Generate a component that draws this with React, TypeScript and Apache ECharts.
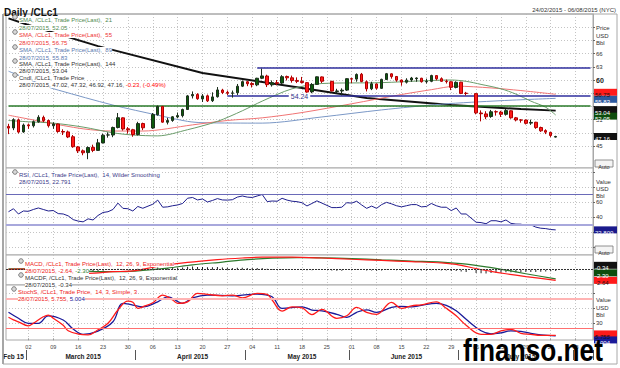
import React, { useEffect, useRef } from "react";
import * as echarts from "echarts";

const FONT = "'Liberation Sans', Arial, sans-serif";

// ---- categories: every weekday shown on the time axis (2015) ----
const axisDays: string[] = [
  "02-24","02-25","02-26","02-27",
  "03-02","03-03","03-04","03-05","03-06",
  "03-09","03-10","03-11","03-12","03-13",
  "03-16","03-17","03-18","03-19","03-20",
  "03-23","03-24","03-25","03-26","03-27",
  "03-30","03-31","04-01","04-02","04-03",
  "04-06","04-07","04-08","04-09","04-10",
  "04-13","04-14","04-15","04-16","04-17",
  "04-20","04-21","04-22","04-23","04-24",
  "04-27","04-28","04-29","04-30","05-01",
  "05-04","05-05","05-06","05-07","05-08",
  "05-11","05-12","05-13","05-14","05-15",
  "05-18","05-19","05-20","05-21","05-22",
  "05-25","05-26","05-27","05-28","05-29",
  "06-01","06-02","06-03","06-04","06-05",
  "06-08","06-09","06-10","06-11","06-12",
  "06-15","06-16","06-17","06-18","06-19",
  "06-22","06-23","06-24","06-25","06-26",
  "06-29","06-30","07-01","07-02","07-03",
  "07-06","07-07","07-08","07-09","07-10",
  "07-13","07-14","07-15","07-16","07-17",
  "07-20","07-21","07-22","07-23","07-24",
  "07-27","07-28","07-29","07-30","07-31",
  "08-03","08-04","08-05","08-06",
];
const holidays = ["04-03", "05-25", "07-03"];
const lastTradeDay = "07-28";
const monthNames = ["Feb 15", "March 2015", "April 2015", "May 2015", "June 2015", "July 2015"];

// ---- candles (trading days in order) ----
const opens = [
  49.45,49.10,50.95,48.20,
  49.80,49.60,50.50,51.50,50.80, 49.60,50.00,48.30,48.20,47.10, 44.80,43.90,43.50,44.70,44.00, 45.70,47.50,47.50,49.20,51.40, 48.90,48.70,
  47.60,50.10, 49.10,52.10,54.00,50.40,50.80, 51.60,51.90,53.30,56.40,56.70, 55.70,56.40,55.30,56.20,57.70, 57.20,57.00,57.10,58.60,
  59.60, 59.20,58.90,60.40,60.90,58.90, 59.40,59.30,60.80,60.50,59.90, 59.70,59.40,57.30,59.00,60.70, 59.70,57.40,57.50,57.70,
  60.30,60.20,61.30,59.60,58.00, 59.10,58.10,60.10,61.40,60.80, 60.00,59.50,60.00,60.30,60.40, 59.60,59.70,61.00,60.30,59.70, 59.60,58.30,
  59.50,57.00, 56.90,52.50,52.30,51.70,52.80, 52.70,52.20,53.00,51.40,50.90, 50.90,50.20,50.40,49.20,48.50, 48.10,47.02,
];
const highs = [
  50.05,51.30,51.25,50.10,
  50.10,50.80,52.00,51.90,51.00, 50.40,50.10,48.80,48.50,47.50, 45.00,44.20,44.90,45.30,46.60, 47.80,48.10,49.40,52.50,51.50, 49.30,48.90,
  50.50,50.30, 52.50,54.20,54.10,51.40,51.80, 52.60,53.50,56.60,57.40,57.00, 56.80,56.70,57.20,58.40,58.00, 57.60,57.60,59.10,59.90,
  59.80, 59.50,60.50,62.58,61.20,59.90, 60.00,61.10,61.00,61.00,60.60, 60.70,59.50,59.30,60.80,60.80, 59.80,58.00,58.10,60.40,
  60.50,61.50,61.60,59.90,59.60, 59.20,60.30,61.60,61.50,60.90, 60.10,60.40,60.70,60.60,60.50, 60.30,61.20,61.10,60.60,60.10, 59.70,59.70,
  59.60,57.30, 57.00,53.10,52.90,53.20,53.10, 53.00,53.40,53.10,51.60,51.10, 51.00,51.00,50.50,49.40,48.80, 48.20,47.32,
];
const lows = [
  47.70,48.60,47.85,48.00,
  48.90,49.20,50.30,50.40,49.20, 48.90,48.00,47.50,46.80,44.60, 43.40,42.90,42.00,43.60,43.90, 45.60,46.90,47.00,49.00,48.50, 47.80,47.10,
  47.40,48.60, 48.90,51.90,50.30,49.90,50.50, 51.30,51.50,53.20,55.80,55.50, 55.00,55.00,55.00,56.00,56.80, 56.60,56.00,56.60,58.40,
  58.60, 58.30,58.60,60.20,58.40,58.50, 58.80,59.10,59.90,59.40,59.30, 59.20,57.10,57.00,58.90,59.30, 57.40,57.00,56.50,57.50,
  59.30,59.60,59.50,57.40,57.70, 57.80,58.00,60.00,60.30,59.60, 58.70,59.20,59.60,59.60,59.40, 59.20,59.50,59.90,59.60,59.20, 57.70,58.10,
  56.80,56.50, 52.20,50.60,51.10,51.40,51.90, 51.60,51.90,51.20,50.60,50.30, 49.90,49.80,48.90,48.20,47.70, 47.00,46.92,
];
const closes = [
  49.07,50.99,48.17,49.76,
  49.59,50.52,51.53,50.76,49.61, 50.00,48.29,48.17,47.05,44.84, 43.88,43.46,44.66,44.00,45.72, 47.45,47.51,49.21,51.43,48.87, 48.68,47.60,
  50.09,49.14, 52.14,53.98,50.42,50.79,51.64, 51.91,53.29,56.39,56.71,55.74, 56.38,55.26,56.16,57.74,57.15, 56.99,57.06,58.58,59.63,
  59.15, 58.93,60.40,60.93,58.94,59.39, 59.25,60.75,60.50,59.88,59.69, 59.43,57.26,58.98,60.72,59.72, 57.51,57.51,57.68,60.30,
  60.20,61.26,59.64,58.00,59.13, 58.14,60.14,61.43,60.77,59.96, 59.52,59.97,60.45,60.45,59.61, 59.68,61.01,60.27,59.70,59.63, 58.33,59.47,
  56.96,56.93, 52.53,52.33,51.65,52.78,52.74, 52.20,53.04,51.41,50.91,50.89, 50.15,50.36,49.19,48.45,48.14, 47.39,47.16,
];

// ---- moving averages: [day, value] ----
const sma21: [string, number][] = [
  ["02-24",50.8],["03-02",50.5],["03-09",50.2],["03-17",49.3],["03-25",48.0],["03-31",47.5],["04-07",47.3],
  ["04-15",48.7],["04-23",50.6],["04-30",53.0],["05-06",55.2],["05-14",58.0],["05-22",59.2],["06-09",59.4],
  ["06-19",59.8],["06-29",60.0],["07-02",59.7],["07-07",59.0],["07-13",58.0],["07-16",56.8],["07-21",55.2],
  ["07-24",53.8],["07-28",52.05],
];
const sma55: [string, number][] = [
  ["02-24",52.0],["03-05",50.5],["03-17",48.9],["03-25",48.4],["04-02",48.4],["04-16",49.8],["04-27",50.8],
  ["05-06",51.4],["05-18",52.6],["06-01",54.6],["06-15",56.7],["06-23",57.8],["06-30",58.6],["07-09",58.2],
  ["07-17",57.6],["07-28",56.75],
];
const sma89: [string, number][] = [
  ["02-24",62.0],["03-06",58.4],["03-10",57.7],["03-25",54.3],["04-07",52.0],["04-15",50.6],["04-20",50.3],
  ["05-06",50.2],["05-22",51.6],["06-09",53.2],["06-25",54.5],["07-13",55.3],["07-28",55.83],
];
const sma144: [string, number][] = [
  ["02-24",74.0],["03-02",72.5],["03-20",67.7],["04-20",61.6],["05-18",58.2],["06-04",55.9],["06-29",54.3],
  ["07-17",53.4],["07-28",53.04],
];
const resistance = { from: "05-05", value: 62.8 };
const support = { from: "04-27", value: 56.5 };
const pivot = 54.24;

// ---- RSI (one value per trading day) ----
const rsi = [
  47,51,44,48,
  47.5,50,52,50,48, 48.6,44.5,44,41.5,36.5, 34.5,33.5,37.5,36,42, 46,47,50,58.5,51.5, 51,48,
  54,51.6, 57,62.5,53,53.5,55, 56,58,65,66,62.7, 64,60,62,64.5,62.7, 62.5,63,66.5,68,
  66.5, 66,68,70,60.5,61.3, 61,64.9,62.5,61,60.4, 59,54.7,58,61.5,58.5, 52.5,52.5,53,59,
  58.5,61,56,51.5,54.5, 51.5,56.5,59.5,57.5,55, 53.5,55,56.5,56.5,53.5, 54,58,55,53,53, 48.5,52,
  44,44, 33,32.5,31,35,35, 33.5,36,31.5,30.5,30.4, 28.5,29.5,26.5,25,24.5, 23.3,22.8,
];
const rsiLevels = [70, 30];

// ---- MACD ----
const macd: [string, number][] = [
  ["02-24",0.1],["03-02",0.15],["03-06",0.2],["03-13",-0.4],["03-18",-0.9],["03-25",-0.5],["03-31",-0.3],
  ["04-07",0.8],["04-15",1.8],["04-23",2.5],["04-30",2.9],["05-06",3.1],["05-14",3.1],["05-22",2.9],
  ["06-01",2.6],["06-09",2.3],["06-17",2.0],["06-25",1.7],["06-30",1.3],["07-06",0.3],["07-09",-0.4],
  ["07-14",-1.0],["07-20",-1.7],["07-28",-2.64],
];
const macdSignal: [string, number][] = [
  ["02-24",0.2],["03-06",0.15],["03-13",0.0],["03-20",-0.5],["03-27",-0.5],["04-02",-0.2],["04-09",0.4],
  ["04-16",1.2],["04-24",1.9],["05-01",2.5],["05-08",2.85],["05-15",3.0],["05-22",2.95],["06-01",2.75],
  ["06-09",2.45],["06-17",2.15],["06-25",1.9],["07-01",1.5],["07-08",0.7],["07-14",-0.1],["07-20",-1.0],
  ["07-28",-2.30],
];
const macdHist = [
  -0.1,-0.05,-0.1,-0.05,
  0,0.02,0.05,0.05,0.03, -0.05,-0.15,-0.2,-0.3,-0.4, -0.45,-0.5,-0.45,-0.4,-0.3, -0.2,-0.1,0.05,0.25,0.2, 0.15,0.1,
  0.25,0.25, 0.4,0.55,0.45,0.45,0.5, 0.5,0.55,0.75,0.8,0.7, 0.7,0.6,0.6,0.65,0.55, 0.5,0.45,0.5,0.5,
  0.45, 0.4,0.4,0.4,0.25,0.2, 0.15,0.15,0.1,0.05,0.0, -0.05,-0.15,-0.15,-0.05,-0.1, -0.2,-0.25,-0.25,-0.1,
  -0.1,-0.05,-0.1,-0.2,-0.2, -0.25,-0.2,-0.1,-0.1,-0.15, -0.2,-0.2,-0.15,-0.15,-0.2, -0.2,-0.15,-0.15,-0.2,-0.2, -0.3,-0.3,
  -0.45,-0.55, -0.8,-0.9,-0.95,-0.85,-0.8, -0.75,-0.65,-0.65,-0.65,-0.6, -0.6,-0.55,-0.55,-0.5,-0.45, -0.4,-0.34,
];

// ---- Slow stochastic ----
const stochK: [string, number][] = [
  ["02-24",42],["02-25",37],["02-26",33],["03-02",25],["03-03",30],["03-05",43],["03-06",46.5],["03-09",40],
  ["03-11",26],["03-12",15],["03-16",8.5],["03-18",7],["03-20",17],["03-24",30],["03-26",56.5],["03-30",74.5],
  ["03-31",72],["04-01",60],["04-02",63],["04-06",71],["04-08",86.5],["04-10",76.5],["04-13",70],["04-15",73],
  ["04-17",90],["04-21",88],["04-24",85],["04-28",86.5],["04-30",81],["05-05",90],["05-07",88],["05-08",76.5],
  ["05-12",54.5],["05-14",63],["05-18",61],["05-20",47.5],["05-22",58],["05-27",40],["05-29",45],["06-02",62],
  ["06-04",52],["06-08",48],["06-11",72],["06-15",60],["06-17",65],["06-19",67],["06-24",73],["06-26",60],
  ["06-30",45],["07-02",26],["07-07",8],["07-09",8],["07-13",15],["07-15",18],["07-17",10],["07-21",8],
  ["07-23",6],["07-28",5.755],
];
const stochD: [string, number][] = [
  ["02-24",52],["02-26",40],["03-02",30],["03-04",30],["03-06",45],["03-11",36.5],["03-13",18.5],["03-17",8],
  ["03-20",14.5],["03-25",33],["03-27",70],["03-31",66.5],["04-02",63],["04-07",73],["04-09",83],["04-14",70],
  ["04-16",81],["04-21",86.5],["04-28",85],["05-05",88.5],["05-08",83],["05-12",60],["05-18",63],["05-20",56.5],
  ["05-22",55],["05-27",48],["05-29",42],["06-02",52],["06-04",57],["06-08",52],["06-11",62],["06-15",64],
  ["06-17",63],["06-19",66],["06-24",70],["06-26",66],["06-30",55],["07-02",38],["07-07",15],["07-09",9],
  ["07-13",11],["07-15",15],["07-17",14],["07-21",10],["07-23",7],["07-28",5.004],
];
const stochLevels = [80, 20];

// tick sets
const priceGrid = [45, 48, 51, 54, 57, 60, 63, 66, 69, 72];
const priceLabels = [45, 51, 60, 63, 66];
const rsiGrid = [0, 20, 40, 60, 80, 100];
const rsiLabels = [40, 60];
const stochGrid = [30, 60, 90];
const stochLabels = [30];

const tradeDays = axisDays.filter((d) => !holidays.includes(d) && d <= lastTradeDay);

export default function App() {
  const ref = useRef<HTMLDivElement>(null);
  useEffect(() => {
    if (!ref.current) return;
    const chart = echarts.init(ref.current, undefined, { renderer: "svg" });

    const byDay = (vals: number[]) => {
      const m: Record<string, number> = {};
      tradeDays.forEach((d, i) => (m[d] = vals[i]));
      return axisDays.map((d) => (d in m ? m[d] : "-"));
    };
    const candleData = axisDays.map((d) => {
      const i = tradeDays.indexOf(d);
      return i < 0 ? "-" : [opens[i], closes[i], lows[i], highs[i]];
    });
    const isMonday = axisDays.map((d) => new Date(2015, +d.slice(0, 2) - 1, +d.slice(3)).getDay() === 1);
    const monthStart = axisDays.map((d, i) => i > 0 && d.slice(0, 2) !== axisDays[i - 1].slice(0, 2));
    const starts = [0, ...axisDays.map((_, i) => i).filter((i) => monthStart[i]), axisDays.length];
    const monthLabelAt: Record<number, string> = {};
    monthNames.forEach((n, k) => {
      const idx = k === 0 ? 1 : Math.round((starts[k] + starts[k + 1]) / 2);
      monthLabelAt[idx] = n;
    });

    const dotted = { color: "#c4c4c4", type: [1, 2] as number[], width: 1 };
    const grids = [
      { top: 14, height: 154 },
      { top: 168, height: 87 },
      { top: 255, height: 30 },
      { top: 285, height: 55 },
    ].map((g) => ({ ...g, left: 6, right: 27, show: true, borderColor: "#a8a8a8", borderWidth: 1, backgroundColor: "#fff" }));

    const mkX = (gi: number) => ({
      type: "category" as const,
      gridIndex: gi,
      data: axisDays,
      boundaryGap: true,
      axisLine: { show: false },
      axisTick: { show: false },
      axisLabel: { show: false },
      splitLine: { show: true, interval: (i: number) => isMonday[i], alignWithLabel: true, lineStyle: dotted },
    });
    const xAxes: any[] = [mkX(0), mkX(1), mkX(2), mkX(3)];
    xAxes[3] = {
      ...xAxes[3],
      axisTick: { show: true, alignWithLabel: true, interval: (i: number) => isMonday[i], length: 2, lineStyle: { color: "#999" } },
      axisLabel: {
        show: true,
        interval: (i: number) => isMonday[i],
        formatter: (v: string) => v.slice(3),
        fontSize: 5.5,
        fontFamily: FONT,
        color: "#444",
        margin: 4,
      },
    };
    xAxes.push({
      type: "category",
      gridIndex: 3,
      data: axisDays,
      boundaryGap: true,
      position: "bottom",
      offset: 10,
      axisLine: { show: false },
      axisTick: { show: true, interval: (i: number) => monthStart[i], length: 10, lineStyle: { color: "#555", width: 1 } },
      axisLabel: {
        show: true,
        interval: (i: number) => i in monthLabelAt,
        formatter: (_v: string, i: number) => monthLabelAt[i] || "",
        fontSize: 6.5,
        fontWeight: "bold",
        fontFamily: FONT,
        color: "#222",
        margin: 3,
      },
      splitLine: { show: false },
    });

    const mkY = (gi: number, min: number, max: number, grid: number[], labels: number[] | null, fmt?: any) => ({
      type: "value" as const,
      gridIndex: gi,
      position: "right" as const,
      min,
      max,
      axisLine: { show: true, lineStyle: { color: "#a8a8a8" } },
      axisTick: { show: grid.length > 0, length: 2, customValues: grid, lineStyle: { color: "#666" } },
      axisLabel: labels
        ? { show: true, customValues: labels, fontSize: 6, fontFamily: FONT, color: "#333", margin: 3, formatter: fmt, rich: { b: { fontSize: 7, fontWeight: "bold", color: "#222", fontFamily: FONT } } }
        : { show: false },
      splitLine: { show: grid.length > 0, lineStyle: dotted },
    });
    const yAxes: any[] = [
      mkY(0, 40, 75, priceGrid, priceLabels, (v: number) => (v === 60 ? "{b|60}" : String(v))),
      mkY(1, -10.7, 105.3, rsiGrid, rsiLabels),
      mkY(2, -3.8, 3.65, [], null),
      mkY(3, -3.4, 106.6, stochGrid, stochLabels),
    ];

    const hLine = (color: string, width: number) => ({ color, width, type: "solid" as const });

    const series: any[] = [
      {
        type: "candlestick",
        xAxisIndex: 0,
        yAxisIndex: 0,
        data: candleData,
        barWidth: 3,
        itemStyle: { color: "#0c5a0c", color0: "#ff1a1a", borderColor: "#1c2e1c", borderColor0: "#b00000", borderWidth: 1 },
        z: 5,
        markLine: {
          silent: true,
          symbol: "none",
          animation: false,
          data: [
            [
              { coord: [resistance.from, resistance.value], lineStyle: hLine("#2f2f9e", 1.5) },
              { coord: [axisDays[axisDays.length - 1], resistance.value] },
            ],
            [
              { coord: [support.from, support.value], lineStyle: hLine("#2f2f9e", 1.5) },
              { coord: [axisDays[axisDays.length - 1], support.value] },
            ],
            [
              {
                coord: [axisDays[0], pivot],
                lineStyle: hLine("#2a7a2a", 1.5),
                label: { show: true, position: "middle", formatter: String(pivot), color: "#33338a", fontSize: 7, fontFamily: FONT, backgroundColor: "#fff", padding: [0, 2] },
              },
              { coord: [axisDays[axisDays.length - 1], pivot] },
            ],
          ],
          label: { show: false },
        },
      },
      { type: "line", xAxisIndex: 0, yAxisIndex: 0, data: sma144, symbol: "none", lineStyle: { color: "#111", width: 2 }, z: 3 },
      { type: "line", xAxisIndex: 0, yAxisIndex: 0, data: sma89, symbol: "none", smooth: 0.3, lineStyle: { color: "#7b98c6", width: 1 }, z: 3 },
      { type: "line", xAxisIndex: 0, yAxisIndex: 0, data: sma55, symbol: "none", smooth: 0.3, lineStyle: { color: "#f07474", width: 1 }, z: 3 },
      { type: "line", xAxisIndex: 0, yAxisIndex: 0, data: sma21, symbol: "none", smooth: 0.3, lineStyle: { color: "#6a9c6a", width: 1 }, z: 3 },
      {
        type: "line",
        xAxisIndex: 1,
        yAxisIndex: 1,
        data: byDay(rsi),
        connectNulls: true,
        symbol: "none",
        lineStyle: { color: "#1e1e8c", width: 1 },
        markLine: {
          silent: true,
          symbol: "none",
          label: { show: false },
          data: [
            { yAxis: rsiLevels[0], lineStyle: { color: "#6a6ab8", width: 1, type: "solid" } },
            { yAxis: rsiLevels[1], lineStyle: { color: "#a8a8dc", width: 2, type: "solid" } },
          ],
        },
      },
      {
        type: "bar",
        xAxisIndex: 2,
        yAxisIndex: 2,
        data: byDay(macdHist),
        barWidth: 1,
        itemStyle: { color: "#222" },
        markLine: {
          silent: true,
          symbol: "none",
          label: { show: false },
          data: [{ yAxis: 0, lineStyle: { color: "#333", width: 1, type: [2, 1] } }],
        },
      },
      { type: "line", xAxisIndex: 2, yAxisIndex: 2, data: macdSignal, symbol: "none", smooth: 0.3, lineStyle: { color: "#2d7a2d", width: 1.2 } },
      { type: "line", xAxisIndex: 2, yAxisIndex: 2, data: macd, symbol: "none", smooth: 0.3, lineStyle: { color: "#ff1a1a", width: 1.2 } },
      {
        type: "line",
        xAxisIndex: 3,
        yAxisIndex: 3,
        data: stochD,
        symbol: "none",
        smooth: 0.4,
        lineStyle: { color: "#1a1a99", width: 1.3 },
        markLine: {
          silent: true,
          symbol: "none",
          label: { show: false },
          data: [
            { yAxis: stochLevels[0], lineStyle: { color: "#ffb4b4", width: 2, type: "solid" } },
            { yAxis: stochLevels[1], lineStyle: { color: "#ff7070", width: 1, type: "solid" } },
          ],
        },
      },
      { type: "line", xAxisIndex: 3, yAxisIndex: 3, data: stochK, symbol: "none", smooth: 0.4, lineStyle: { color: "#ff1a1a", width: 1.3 } },
    ];

    const t = (id: string, x: number, y: number, text: string, fill = "#333", extra: any = {}) => ({
      type: "text",
      id,
      x,
      y,
      z: 50,
      style: { text, fill, fontSize: 6, fontFamily: FONT, textBaseline: "middle", ...extra },
    });
    const icon = (id: string, x: number, y: number) => ({
      type: "circle",
      id,
      z: 51,
      shape: { cx: x, cy: y, r: 2.3 },
      style: { fill: "#d8d8d8", stroke: "#666", lineWidth: 0.8 },
    });
    const wb = { backgroundColor: "#fff" };

    const graphic: any[] = [
      { type: "line", id: "fl", z: 40, shape: { x1: 3, y1: 14, x2: 3, y2: 364 }, style: { stroke: "#888", lineWidth: 1.5 } },
      { type: "line", id: "ft", z: 40, shape: { x1: 3, y1: 14, x2: 617, y2: 14 }, style: { stroke: "#a8a8a8", lineWidth: 1 } },
      { type: "line", id: "fb", z: 40, shape: { x1: 3, y1: 364, x2: 617, y2: 364 }, style: { stroke: "#a8a8a8", lineWidth: 1 } },
      { type: "line", id: "fr", z: 40, shape: { x1: 617, y1: 14, x2: 617, y2: 364 }, style: { stroke: "#a8a8a8", lineWidth: 1 } },
      t("title", 4, 7, "Daily /CLc1", "#111", { fontSize: 10, fontWeight: "bold" }),
      t("range", 616, 7, "24/02/2015 - 06/08/2015 (NYC)", "#333", { textAlign: "right", fontSize: 6 }),
      t("p1", 596, 25, "Price"), t("p2", 596, 33, "USD"), t("p3", 596, 40, "Bbl"),
      t("r1", 596, 179, "Value"), t("r2", 596, 186, "USD"), t("r3", 596, 193, "Bbl"),
      t("s1", 596, 297, "Value"), t("s2", 596, 305, "USD"), t("s3", 596, 312, "Bbl"),
      // legends main
      icon("i1", 15, 17), t("l1", 19, 17, "SMA, /CLc1, Trade Price(Last),  21", "#4f8a4f", wb), t("l1b", 19, 25, "28/07/2015, 52.05", "#4f8a4f", wb),
      icon("i2", 15, 32), t("l2", 19, 32, "SMA, /CLc1, Trade Price(Last),  55", "#ee3333", wb), t("l2b", 19, 40, "28/07/2015, 56.75", "#ee3333", wb),
      icon("i3", 15, 47), t("l3", 19, 47, "SMA, /CLc1, Trade Price(Last),  89", "#5a7ab0", wb), t("l3b", 19, 55, "28/07/2015, 55.83", "#5a7ab0", wb),
      icon("i4", 15, 61), t("l4", 19, 61, "SMA, /CLc1, Trade Price(Last),  144", "#333", wb), t("l4b", 19, 68, "28/07/2015, 53.04", "#333", wb),
      icon("i5", 15, 75), t("l5", 19, 75, "Cndl, /CLc1, Trade Price", "#333", wb),
      {
        type: "text", id: "l5b", x: 19, y: 82, z: 50,
        style: {
          text: "{a|28/07/2015, 47.02, 47.32, 46.92, 47.16, }{r|-0.23, (-0.49%)}",
          textBaseline: "middle", fontSize: 6, fontFamily: FONT, backgroundColor: "#fff",
          rich: { a: { fill: "#333", fontSize: 6, fontFamily: FONT }, r: { fill: "#ff0000", fontSize: 6, fontFamily: FONT } },
        },
      },
      // RSI legend
      icon("i6", 15, 172), t("l6", 19, 172, "RSI, /CLc1, Trade Price(Last),  14, Wilder Smoothing", "#3a3a8a", wb),
      t("l6b", 19, 179, "28/07/2015, 22.791", "#3a3a8a", wb),
      // MACD legend
      icon("i7", 21, 261), t("l7", 25, 261, "MACD, /CLc1, Trade Price(Last),  12, 26, 9, Exponential", "#ee2222", wb),
      {
        type: "text", id: "l7b", x: 25, y: 268, z: 50,
        style: {
          text: "{a|28/07/2015, -2.64, }{g|-2.30}",
          textBaseline: "middle", fontSize: 6, fontFamily: FONT, backgroundColor: "#fff",
          rich: { a: { fill: "#ee2222", fontSize: 6, fontFamily: FONT }, g: { fill: "#2d7a2d", fontSize: 6, fontFamily: FONT } },
        },
      },
      icon("i8", 21, 275), t("l8", 25, 275, "MACDF, /CLc1, Trade Price(Last),  12, 26, 9, Exponential", "#333", wb),
      t("l8b", 25, 282, "28/07/2015, -0.34", "#333", wb),
      // Stoch legend
      icon("i9", 14, 289), t("l9", 18, 289, "StochS, /CLc1, Trade Price,  14, 3, Simple, 3", "#ee2222", wb),
      {
        type: "text", id: "l9b", x: 18, y: 296, z: 50,
        style: {
          text: "{a|28/07/2015, 5.755, }{b|5.004}",
          textBaseline: "middle", fontSize: 6, fontFamily: FONT, backgroundColor: "#fff",
          rich: { a: { fill: "#ee2222", fontSize: 6, fontFamily: FONT }, b: { fill: "#1a1a99", fontSize: 6, fontFamily: FONT } },
        },
      },
      // Auto buttons
      { type: "rect", id: "a1", z: 50, shape: { x: 595, y: 160, width: 18, height: 7 }, style: { fill: "#f4f4f4", stroke: "#777", lineWidth: 0.8 } },
      t("a1t", 604, 163.5, "Auto", "#333", { textAlign: "center", fontSize: 5.5 }),
      { type: "rect", id: "a2", z: 50, shape: { x: 595, y: 246, width: 18, height: 7 }, style: { fill: "#f4f4f4", stroke: "#777", lineWidth: 0.8 } },
      t("a2t", 604, 249.5, "Auto", "#333", { textAlign: "center", fontSize: 5.5 }),
    ];

    chart.setOption({
      animation: false,
      backgroundColor: "#fff",
      textStyle: { fontFamily: FONT },
      grid: grids,
      xAxis: xAxes,
      yAxis: yAxes,
      series,
      graphic,
    });

    // value boxes on the right axis, placed with the axis scales
    const last = (a: [string, number][]) => a[a.length - 1][1];
    const py = (yi: number, v: number) => chart.convertToPixel({ yAxisIndex: yi }, v) as number;
    const box = (id: string, y: number, text: string, bg: string, fg: string) => [
      { type: "rect", id: id + "r", z: 60, shape: { x: 594, y: y - 3.5, width: 23, height: 7 }, style: { fill: bg } },
      { type: "text", id: id + "t", z: 61, x: 595, y, style: { text, fill: fg, fontSize: 6, fontFamily: FONT, textBaseline: "middle" } },
    ];
    const yRed = py(0, last(sma55)) - 2;
    const yBlue = Math.max(py(0, last(sma89)), yRed + 7);
    const yBlack = py(0, last(sma144)) - 1;
    const yGreen = Math.max(py(0, last(sma21)), yBlack + 6.5);
    const yM = py(2, last(macd));
    const yK = py(3, last(stochK));
    const boxes = [
      ...box("b55", yRed, last(sma55).toFixed(2), "#ff1a1a", "#111"),
      ...box("b89", yBlue, last(sma89).toFixed(2), "#2c5aa0", "#fff"),
      ...box("b144", yBlack, last(sma144).toFixed(2), "#111", "#fff"),
      ...box("b21", yGreen, last(sma21).toFixed(2), "#0d4d0d", "#fff"),
      ...box("bc", py(0, closes[closes.length - 1]), closes[closes.length - 1].toFixed(2), "#111", "#fff"),
      ...box("brsi", py(1, rsi[rsi.length - 1]), rsi[rsi.length - 1].toFixed(3), "#1a1a8c", "#fff"),
      ...box("bm", yM, last(macd).toFixed(2), "#ff1a1a", "#111"),
      ...box("bs", yM - 7.5, last(macdSignal).toFixed(2), "#0d4d0d", "#fff"),
      ...box("bh", yM - 15, macdHist[macdHist.length - 1].toFixed(2), "#111", "#fff"),
      ...box("bk", yK - 1.5, last(stochK).toFixed(3), "#ff1a1a", "#111"),
      ...box("bd", yK + 4.5, last(stochD).toFixed(3), "#1a1a99", "#fff"),
      {
        type: "text", id: "wm", z: 80, x: 463, y: 334, scaleX: 0.82,
        style: { text: "finanso.net", fill: "#000", fontSize: 32, fontWeight: "bold", fontFamily: FONT, textBaseline: "middle" },
      },
    ];
    chart.setOption({ graphic: [...graphic, ...boxes] });

    return () => chart.dispose();
  }, []);
  return <div ref={ref} style={{ position: "absolute", left: 0, top: 0, width: 620, height: 368 }} />;
}
